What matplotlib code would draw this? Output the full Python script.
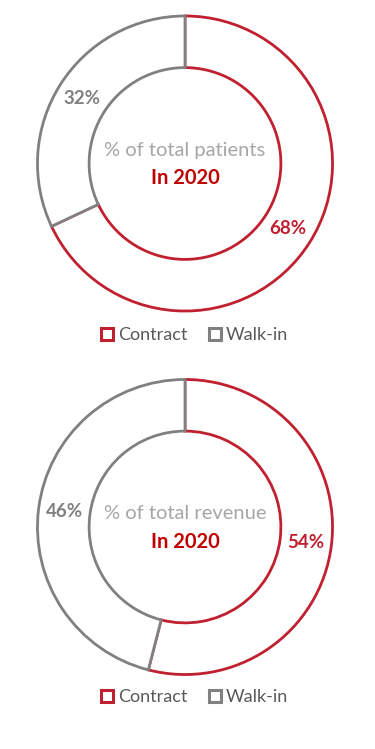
import numpy as np
import matplotlib
matplotlib.use("Agg")
import matplotlib.pyplot as plt
from matplotlib.lines import Line2D

plt.rcParams['font.family'] = ['Lato', 'DejaVu Sans']

categories = ["Contract", "Walk-in"]
patients_share = [68, 32]
revenue_share = [54, 46]
center_titles = ["% of total patients", "% of total revenue"]
year_label = "In 2020"

RED = "#C0202F"
GRAY = "#808080"
LIGHT_GRAY = "#A6A6A6"
DARK_RED = "#C00000"

W, H = 375, 749
fig = plt.figure(figsize=(W / 100, H / 100), dpi=100)

charts = [
    (patients_share, center_titles[0], 163.5, 335),
    (revenue_share, center_titles[1], 527, 697),
]

R = 149
for values, title, cy, legend_y in charts:
    ax = fig.add_axes([(185 - R) / W, 1 - (cy + R) / H, 2 * R / W, 2 * R / H])
    wedges, _ = ax.pie(values, startangle=90, counterclock=False, radius=1,
                       colors=["white", "white"],
                       wedgeprops=dict(width=0.35, linewidth=2.0))
    for w, c in zip(wedges, [RED, GRAY]):
        w.set_edgecolor(c)

    # percentage labels in the middle of each ring segment
    total = sum(values)
    start = 90
    for v, c in zip(values, [RED, GRAY]):
        mid = np.deg2rad(start - v / total * 360 / 2)
        ax.text(0.825 * np.cos(mid), 0.825 * np.sin(mid), f"{v}%",
                ha="center", va="center", fontsize=13.5, fontweight="bold", color=c)
        start -= v / total * 360
    ax.text(0, 0.09, title, ha="center", va="center", fontsize=14.5, color=LIGHT_GRAY)
    ax.text(0, -0.10, year_label, ha="center", va="center", fontsize=14.5,
            fontweight="bold", color=DARK_RED)
    ax.set_xlim(-1.01, 1.01)
    ax.set_ylim(-1.01, 1.01)
    ax.axis("off")

    handles = [Line2D([], [], marker="s", linestyle="none", markersize=9,
                      markerfacecolor="white", markeredgecolor=c, markeredgewidth=2.2)
               for c in [RED, GRAY]]
    fig.legend(handles, categories, loc="center", bbox_to_anchor=(0.515, 1 - legend_y / H),
               ncol=2, frameon=False, fontsize=13, labelcolor="#595959",
               handletextpad=0.1, columnspacing=1.0, handlelength=1.0)

fig.savefig("out.png", dpi=100)
